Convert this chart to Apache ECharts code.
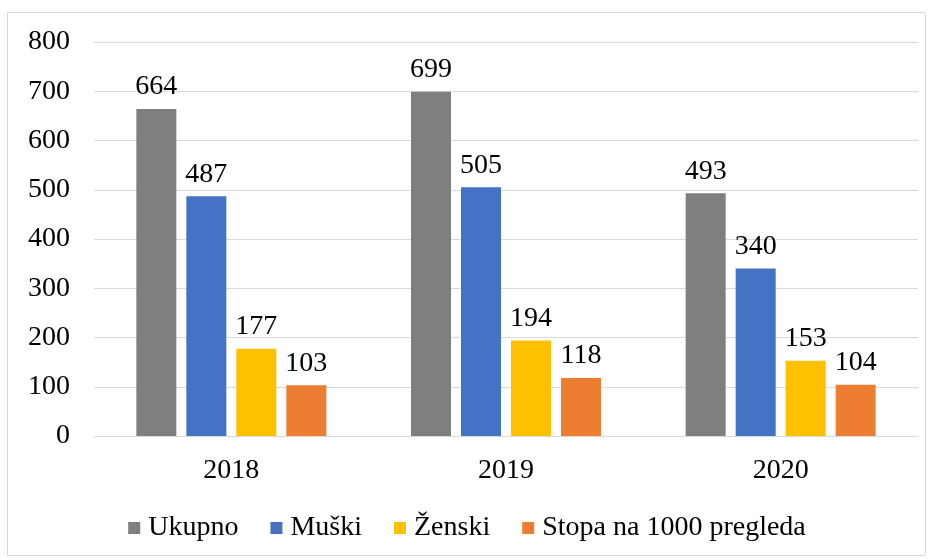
<!DOCTYPE html>
<html>
<head>
<meta charset="UTF-8">
<script src="https://cdn.jsdelivr.net/npm/echarts@6/dist/echarts.min.js"></script>
</head>
<body style="margin:0;background:#fff">
<div id="chart" style="width:934px;height:560px"></div>
<script>
var years = ['2018', '2019', '2020'];
var ukupno = [664, 699, 493];
var muski = [487, 505, 340];
var zenski = [177, 194, 153];
var stopa = [103, 118, 104];

var font = '"Liberation Serif", "Times New Roman", serif';
var chart = echarts.init(document.getElementById('chart'));

function bar(name, data, color) {
    return {
        name: name,
        type: 'bar',
        data: data,
        barWidth: 40,
        barGap: '25%',
        itemStyle: {color: color},
        label: {
            show: true,
            position: 'top',
            distance: 8,
            color: '#000',
            fontFamily: font,
            fontSize: 28
        }
    };
}

chart.setOption({
    animation: false,
    graphic: [{
        type: 'rect',
        shape: {x: 7.5, y: 12.5, width: 918, height: 543},
        style: {fill: 'none', stroke: '#d9d9d9', lineWidth: 1}
    }],
    grid: {left: 94, right: 16, top: 42, bottom: 124},
    legend: {
        top: 509,
        left: 'center',
        itemWidth: 12,
        itemHeight: 12,
        itemGap: 32,
        icon: 'rect',
        textStyle: {fontFamily: font, fontSize: 28, color: '#000', padding: [0, 0, 0, 3]},
        data: ['Ukupno', 'Muški', 'Ženski', 'Stopa na 1000 pregleda']
    },
    xAxis: {
        type: 'category',
        data: years,
        axisTick: {show: false},
        axisLine: {lineStyle: {color: '#d9d9d9', width: 1}},
        axisLabel: {fontFamily: font, fontSize: 28, color: '#000', margin: 21}
    },
    yAxis: {
        type: 'value',
        min: 0,
        max: 800,
        interval: 100,
        axisLabel: {fontFamily: font, fontSize: 28, color: '#000', margin: 24},
        splitLine: {lineStyle: {color: '#d9d9d9', width: 1}}
    },
    series: [
        bar('Ukupno', ukupno, '#7f7f7f'),
        bar('Muški', muski, '#4472c4'),
        bar('Ženski', zenski, '#ffc000'),
        bar('Stopa na 1000 pregleda', stopa, '#ed7d31')
    ]
});
</script>
</body>
</html>
